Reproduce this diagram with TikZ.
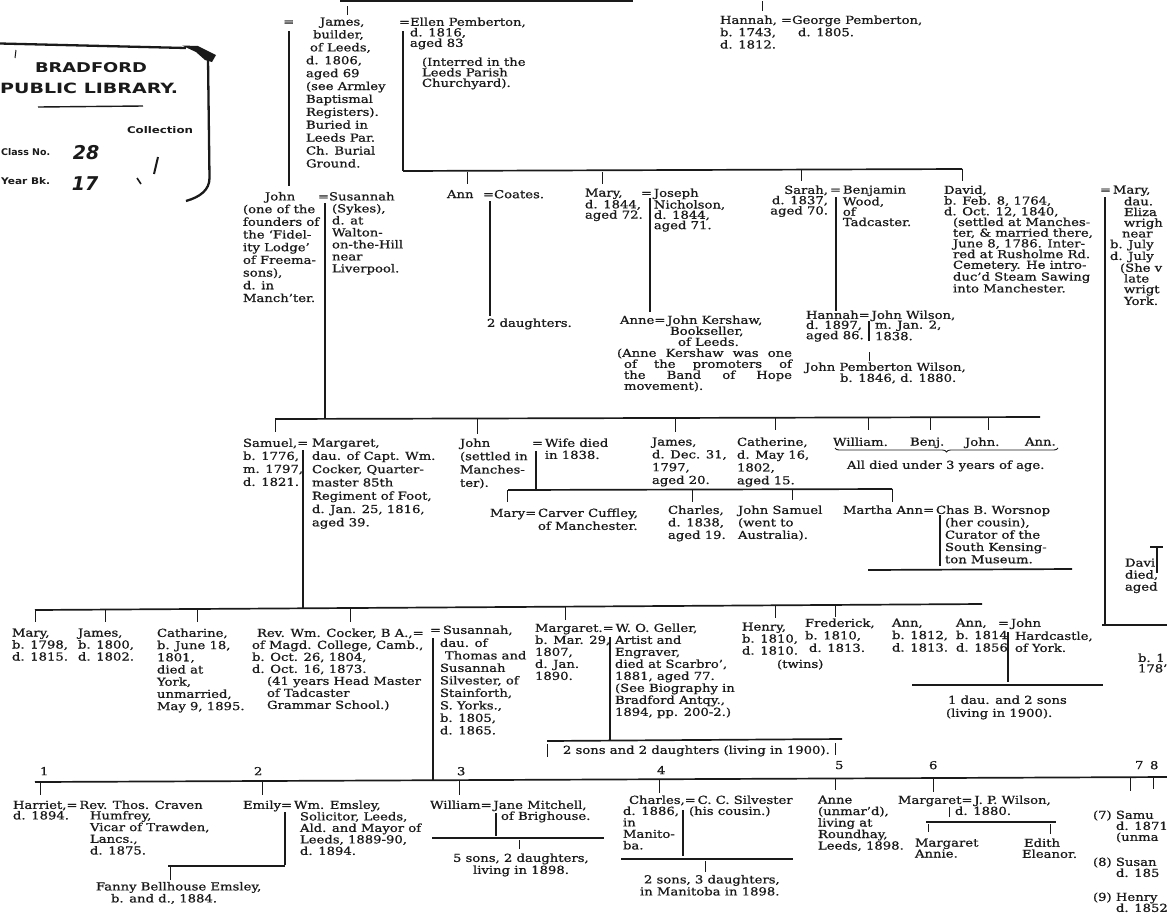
\documentclass[tikz,border=0pt]{standalone}
\usepackage{fontspec}
\setmainfont{DejaVu Serif}[FakeStretch=1.2,FakeBold=0.9]
\newfontfamily\stampfont{DejaVu Sans}
\usetikzlibrary{decorations.pathreplacing}
\newcommand{\fsz}[1]{\fontsize{11pt}{#1pt}\selectfont}
\newcommand{\jw}[2]{\makebox[#1pt][s]{#2}}
\definecolor{ink}{HTML}{1A1A1A}
\begin{document}
\begin{tikzpicture}[x=1pt,y=-1pt,
  tx/.style={anchor=north west, inner sep=0pt, outer sep=0pt, align=left, font=\fsz{#1}, text=ink},
  tx/.default=10.7,
  txr/.style={tx=#1, anchor=north east, align=right},
  txr/.default=10.3,
  eqs/.style={anchor=west, inner sep=0pt, font=\fsz{11}, text=ink},
  bar/.style={draw=ink, line width=1.7pt},
  vl/.style={draw=ink, line width=1.1pt},
  tick/.style={draw=ink, line width=0.8pt},
  stamp/.style={inner sep=0pt, text=ink},
]
\useasboundingbox (0,0) rectangle (1167,922);
\fill[white] (0,0) rectangle (1167,922);
\clip (0,0) rectangle (1167,922);

% ---------------- stamp ----------------
\draw[ink, line width=2.3pt] (0,43.5) -- (186,48);
\fill[ink] (182,45.5) -- (198,46) -- (216,55) -- (212,62) -- (205,60) -- (196,52) -- cycle;
\draw[ink, line width=2.3pt] (208,58) -- (209.5,178) .. controls (209.5,190) and (200,197) .. (186,201);
\draw[ink, line width=1pt] (16,50) -- (15,58);
\node[stamp] (st1) at (91,68) {\resizebox{112pt}{10pt}{\stampfont\bfseries BRADFORD}};
\node[stamp, anchor=west] (st2) at (0,88) {\resizebox{178pt}{10.5pt}{\stampfont\bfseries PUBLIC LIBRARY.}};
\draw[ink, line width=1.4pt] (38,107) -- (143,106);
\node[stamp] (st3) at (160,130) {\resizebox{66pt}{7pt}{\stampfont\bfseries Collection}};
\node[stamp, anchor=west] (st4) at (1,152) {\resizebox{49pt}{7pt}{\stampfont\bfseries Class No.}};
\node[stamp, anchor=west] (st5) at (1,181) {\resizebox{49pt}{7pt}{\stampfont\bfseries Year Bk.}};
\node[stamp] (hw1) at (86,153) {\fontsize{19}{19}\stampfont\bfseries\itshape 28};
\node[stamp] (hw2) at (85,184) {\fontsize{19}{19}\stampfont\bfseries\itshape 17};
\draw[ink, line width=2pt] (158,157) -- (154,174);
\draw[ink, line width=1.6pt] (137,178) -- (141,184);

% ---------------- generation 1 ----------------
\draw[bar] (340,1) -- (633,1);
\draw[tick] (347,6) -- (347,15);
\draw[tick] (762,1) -- (762,11);
\node[eqs] (eqA) at (283,23) {=};
\draw[vl] (289,31) -- (289,186);
\node[tx=12.9] (james) at (306,17.5) {\hspace*{14pt}James,\\\hspace*{7pt}builder,\\\hspace*{4pt}of Leeds,\\d. 1806,\\aged 69\\(see Armley\\Baptismal\\Registers).\\Buried in\\Leeds Par.\\Ch. Burial\\Ground.};
\node[tx=10.5] (ellen) at (399,17.5) {=Ellen Pemberton,\\\hspace*{11pt}d. 1816,\\\hspace*{11pt}aged 83};
\node[tx=10.5] (ellen2) at (422,57.5) {(Interred in the\\Leeds Parish\\Churchyard).};
\draw[vl] (403,31) -- (403,171);
\node[tx=12.3] (hannahA) at (720,15.5) {Hannah,\\b. 1743,\\d. 1812.};
\node[tx=12.3] (george) at (781,15.5) {=George Pemberton,\\\hspace*{17pt}d. 1805.};

% ---------------- generation 2 ----------------
\draw[bar] (403,171) -- (962,169);
\draw[tick] (467,172) -- (467,184);
\draw[tick] (602,172) -- (602,184);
\draw[tick] (801,170) -- (801,181);
\draw[tick] (962,169) -- (962,181);

\node[tx=12.7] (john) at (243,192) {\hspace*{22pt}John\\(one of the\\founders of\\the ‘Fidel-\\ity Lodge’\\of Freema-\\sons),\\d. in\\Manch’ter.};
\node[tx=12] (susannah) at (318,192) {=Susannah\\\hspace*{14pt}(Sykes),\\\hspace*{14pt}d. at\\\hspace*{14pt}Walton-\\\hspace*{14pt}on-the-Hill\\\hspace*{14pt}near\\\hspace*{14pt}Liverpool.};
\draw[vl] (325,203) -- (325,418);

\node[tx] (ann) at (447,190) {Ann};
\node[tx] (coates) at (483,190) {=Coates.};
\draw[vl] (490,201) -- (490,316);
\node[tx] (twodau) at (487,318.5) {2 daughters.};

\node[tx=10.3] (maryA) at (585,188.5) {Mary,\\d. 1844,\\aged 72.};
\node[tx=10.3] (joseph) at (641,188.5) {=\,Joseph\\\hphantom{=\,}Nicholson,\\\hphantom{=\,}d. 1844,\\\hphantom{=\,}aged 71.};
\draw[vl] (650,198) -- (650,312);
\node[tx=11] (anne) at (620,315.5) {Anne=\,John Kershaw,\\\hspace*{50pt}Bookseller,\\\hspace*{58pt}of Leeds.};
\node[tx=11] (anneK) at (617,348.5) {\jw{175}{(Anne Kershaw was one}\\\hspace*{7pt}\jw{168}{of the promoters of}\\\hspace*{7pt}\jw{168}{the Band of Hope}\\\hspace*{7pt}movement).};

\node[txr=10.3] (sarah) at (828,185.5) {Sarah,\\d. 1837,\\aged 70.};
\node[tx=10.3] (benjamin) at (830,185.5) {=\,Benjamin\\\hphantom{=\,}Wood,\\\hphantom{=\,}of\\\hphantom{=\,}Tadcaster.};
\draw[vl] (836,197) -- (836,311);
\node[tx] (hannahB) at (806,310.5) {Hannah=\,John Wilson,};
\node[tx=10.3] (hannahBd) at (806,320.5) {d. 1897,\\aged 86.};
\node[tx=10.3] (jwil) at (875,320.5) {m. Jan. 2,\\1838.};
\draw[vl] (869,321) -- (869,341);
\draw[tick] (869,352) -- (869,361);
\node[tx] (jpw) at (805,362.5) {John Pemberton Wilson,};
\node[tx] (jpwd) at (840,373.5) {b. 1846, d. 1880.};

\node[tx=10.7] (david) at (944,185.5) {David,\\b. Feb. 8, 1764,\\d. Oct. 12, 1840,\\\hspace*{9pt}(settled at Manches-\\\hspace*{9pt}ter, \& married there,\\\hspace*{9pt}June 8, 1786. Inter-\\\hspace*{9pt}red at Rusholme Rd.\\\hspace*{9pt}Cemetery. He intro-\\\hspace*{9pt}duc’d Steam Sawing\\\hspace*{9pt}into Manchester.};
\node[tx=10.7] (maryR) at (1100,185.5) {=\,Mary,\\\hspace*{24pt}dau.\\\hspace*{24pt}Eliza\\\hspace*{24pt}wrigh\\\hspace*{22pt}near\\\hspace*{10pt}b. July\\\hspace*{10pt}d. July\\\hspace*{20pt}(She v\\\hspace*{24pt}late\\\hspace*{24pt}wrigt\\\hspace*{24pt}York.};
\draw[vl] (1105,197) -- (1105,625);

% ---------------- generation 3 ----------------
\draw[bar] (275,419) -- (1040,417);
\draw[tick] (275,419) -- (275,432);
\draw[tick] (477,418) -- (477,434);
\draw[tick] (675,418) -- (675,432);
\draw[tick] (775,418) -- (775,430);
\draw[tick] (868,418) -- (868,430);
\draw[tick] (930,418) -- (930,430);
\draw[tick] (988,418) -- (988,430);

\node[tx=13] (samuel) at (243,438.5) {Samuel,=\\b. 1776,\\m. 1797,\\d. 1821.};
\node[tx=13.3] (margaret) at (312,438.5) {Margaret,\\dau. of Capt. Wm.\\Cocker, Quarter-\\master 85th\\Regiment of Foot,\\d. Jan. 25, 1816,\\aged 39.};
\draw[vl] (303,450) -- (303,608);

\node[tx=13.3] (johnB) at (460,438.5) {John\\(settled in\\Manches-\\ter).};
\node[tx=12] (wife) at (532,438.5) {=\,Wife died\\\hphantom{=\,}in 1838.};
\draw[vl] (536,451) -- (536,489);
\draw[bar] (508,490) -- (892,489);
\draw[tick] (507,490) -- (507,502);
\draw[tick] (692,490) -- (692,502);
\draw[tick] (792,490) -- (792,500);
\draw[tick] (892,489) -- (892,502);
\node[tx] (maryC) at (490,508.5) {Mary=\,Carver Cuffley,};
\node[tx] (maryCd) at (538,521.5) {of Manchester.};

\node[tx=12.8] (jamesB) at (652,437.5) {James,\\d. Dec. 31,\\1797,\\aged 20.};
\node[tx=12.8] (catherine) at (737,437.5) {Catherine,\\d. May 16,\\1802,\\aged 15.};
\node[tx] (william) at (833,437.5) {William.};
\node[tx] (benj) at (910,437.5) {Benj.};
\node[tx] (johnC) at (965,437.5) {John.};
\node[tx] (annB) at (1025,437.5) {Ann.};
\draw[ink, line width=0.9pt, decorate, decoration={brace, amplitude=4pt, mirror}] (835,448) -- (1058,448);
\node[tx] (alldied) at (847,460.5) {All died under 3 years of age.};

\node[tx=12.5] (charles) at (668,505.5) {Charles,\\d. 1838,\\aged 19.};
\node[tx=12.5] (johnS) at (738,505.5) {John Samuel\\(went to\\Australia).};
\node[tx] (martha) at (843,505.5) {Martha Ann=\,Chas B. Worsnop};
\node[tx=12.3] (worsnop) at (945,518) {(her cousin),\\Curator of the\\South Kensing-\\ton Museum.};
\draw[vl] (940,515) -- (940,566);
\draw[bar] (868,570) -- (1072,569);

\node[tx=12] (davi) at (1125,558.5) {Davi\\died,\\aged};
\draw[vl] (1157,547) -- (1157,573);
\draw[vl] (1150,547) -- (1163,547);
\draw[bar] (1102,625) -- (1167,625);
\node[tx=10.5] (bornR) at (1138,653.5) {b. 1\\178’};

% ---------------- generation 4 ----------------
\draw[bar] (35,610) -- (982,604);
\draw[tick] (35,610) -- (35,622);
\draw[tick] (105,609) -- (105,622);
\draw[tick] (197,609) -- (197,622);
\draw[tick] (350,608) -- (350,622);
\draw[tick] (565,607) -- (565,620);
\draw[tick] (775,605) -- (775,618);
\draw[tick] (835,605) -- (835,617);

\node[tx=12] (maryD) at (12,628.5) {Mary,\\b. 1798,\\d. 1815.};
\node[tx=12] (jamesC) at (78,628.5) {James,\\b. 1800,\\d. 1802.};
\node[tx=12.2] (catharine) at (157,628.5) {Catharine,\\b. June 18,\\1801,\\died at\\York,\\unmarried,\\May 9, 1895.};
\node[tx] (rev) at (257,628.5) {Rev. Wm. Cocker, B A.,=};
\node[tx=12] (revd) at (252,640.5) {of Magd. College, Camb.,\\b. Oct. 26, 1804,\\d. Oct. 16, 1873.};
\node[tx=12] (revh) at (267,676.5) {(41 years Head Master\\of Tadcaster\\Grammar School.)};
\node[tx] (susB) at (430,625.5) {=\,Susannah,};
\node[tx=12.5] (susBd) at (440,638.5) {dau. of\\\hspace*{5pt}Thomas and\\Susannah\\Silvester, of\\Stainforth,\\S. Yorks.,\\b. 1805,\\d. 1865.};
\draw[vl] (433,638) -- (433,780);

\node[tx] (margB) at (535,623.5) {Margaret.=\,W. O. Geller,};
\node[tx=12] (margBd) at (535,635.5) {b. Mar. 29,\\1807,\\d. Jan.\\1890.};
\node[tx=12] (geller) at (615,635.5) {Artist and\\Engraver,\\died at Scarbro’,\\1881, aged 77.\\(See Biography in\\Bradford Antqy.,\\1894, pp. 200-2.)};
\draw[vl] (610,637) -- (610,740);
\draw[bar] (547,741) -- (842,739);
\draw[tick] (547,744) -- (547,757);
\draw[tick] (835,743) -- (835,755);
\node[tx] (twosons) at (563,745.5) {2 sons and 2 daughters (living in 1900).};

\node[tx=12] (henry) at (742,622.5) {Henry,\\b. 1810,\\d. 1810.};
\node[tx] (twins) at (777,659.5) {(twins)};
\node[tx=12.5] (fred) at (805,618.5) {Frederick,\\b. 1810,\\\hspace*{4pt}d. 1813.};
\node[tx=12.5] (annC) at (892,618.5) {Ann,\\b. 1812,\\d. 1813.};
\node[tx=12.5] (annD) at (956,618.5) {Ann,\\b. 1814\\d. 1856};
\node[tx] (hardc) at (998,618.5) {=\,John};
\node[tx=12] (hardcd) at (1015,631.5) {Hardcastle,\\of York.};
\draw[vl] (1008,632) -- (1008,682);
\draw[bar] (912,685) -- (1103,685);
\node[tx] (onedau) at (948,695.5) {1 dau. and 2 sons};
\node[tx] (onedau2) at (946,708.5) {(living in 1900).};

% ---------------- generation 5 ----------------
\node[tx] (n1) at (40,767) {1};
\node[tx] (n2) at (254,767) {2};
\node[tx] (n3) at (457,767) {3};
\node[tx] (n4) at (657,766) {4};
\node[tx] (n5) at (835,761) {5};
\node[tx] (n6) at (929,761) {6};
\node[tx] (n7) at (1135,761) {7};
\node[tx] (n8) at (1150,761) {8};
\draw[bar] (35,782) -- (1167,777);
\draw[tick] (40,782) -- (40,795);
\draw[tick] (262,781) -- (262,795);
\draw[tick] (459,781) -- (459,795);
\draw[tick] (659,780) -- (659,793);
\draw[tick] (835,779) -- (835,790);
\draw[tick] (933,779) -- (933,792);
\draw[tick] (1130,778) -- (1130,791);
\draw[tick] (1153,778) -- (1153,789);

\node[tx] (harriet) at (13,800.5) {Harriet,=\,Rev. Thos. Craven};
\node[tx] (harrietd) at (13,811) {d. 1894.};
\node[tx=11.7] (humfrey) at (90,811) {Humfrey,\\Vicar of Trawden,\\Lancs.,\\d. 1875.};
\node[tx] (emily) at (243,800.5) {Emily=\,Wm. Emsley,};
\node[tx=11.5] (emsley) at (300,812) {Solicitor, Leeds,\\Ald. and Mayor of\\Leeds, 1889-90,\\d. 1894.};
\draw[vl] (285,812) -- (285,865);
\draw[vl] (168,866) -- (285,866);
\draw[tick] (170,866) -- (170,880);
\node[tx] (fanny) at (96,882) {Fanny Bellhouse Emsley,};
\node[tx] (fannyd) at (111,894) {b. and d., 1884.};

\node[tx] (williamB) at (430,800.5) {William=\,Jane Mitchell,};
\node[tx] (brig) at (501,811.5) {of Brighouse.};
\draw[vl] (496,813) -- (496,836);
\draw[bar] (432,838) -- (604,838);
\draw[tick] (519,840) -- (519,849);
\node[tx] (fivesons) at (453,853.5) {5 sons, 2 daughters,};
\node[tx] (fivesons2) at (473,865.5) {living in 1898.};

\node[tx] (charlesB) at (629,795.5) {Charles,=\,C. C. Silvester};
\node[tx=11.5] (charlesBd) at (623,806.5) {d. 1886,\\in\\Manito-\\ba.};
\node[tx] (hiscousin) at (689,806.5) {(his cousin.)};
\draw[vl] (683,810) -- (683,856);
\draw[bar] (621,859) -- (793,859);
\draw[tick] (705,861) -- (705,872);
\node[tx] (twosons3) at (644,875) {2 sons, 3 daughters,};
\node[tx] (twosons4) at (640,887) {in Manitoba in 1898.};

\node[tx=11.5] (anneB) at (818,795.5) {Anne\\(unmar’d),\\living at\\Roundhay,\\Leeds, 1898.};
\node[tx] (margC) at (898,795.5) {Margaret=\,J. P. Wilson,};
\node[tx] (jpwB) at (955,806.5) {d. 1880.};
\draw[tick] (949,807) -- (949,817);
\draw[bar] (926,822) -- (1056,822);
\draw[tick] (928,824) -- (928,832);
\draw[tick] (1050,824) -- (1050,834);
\node[tx=11] (margD) at (915,838.5) {Margaret\\Annie.};
\node[tx=11] (edith) at (1022,838.5) {\hspace*{2pt}Edith\\Eleanor.};

\node[tx] (s7) at (1093,810.5) {(7) Samu};
\node[tx=11] (s7d) at (1116,821.5) {d. 1871\\(unma};
\node[tx] (s8) at (1093,857.5) {(8) Susan};
\node[tx] (s8d) at (1116,868.5) {d. 185};
\node[tx] (s9) at (1093,892.5) {(9) Henry};
\node[tx] (s9d) at (1116,903.5) {d. 1852};
\end{tikzpicture}
\end{document}
